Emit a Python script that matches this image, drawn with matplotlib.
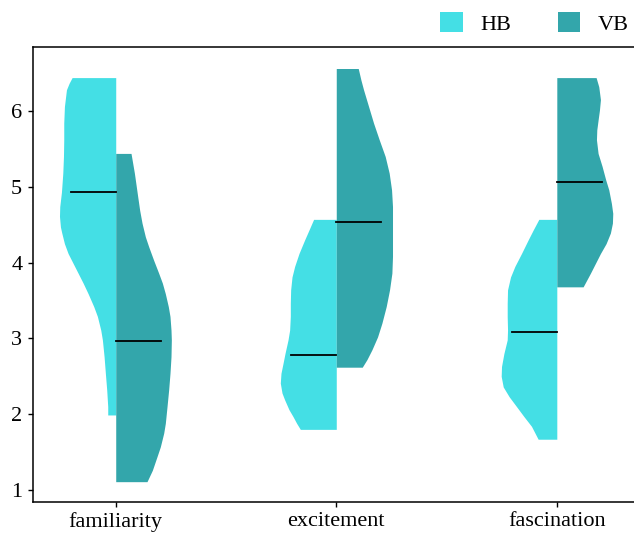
import matplotlib
matplotlib.use("Agg")
import matplotlib.pyplot as plt
from matplotlib.patches import Patch

plt.rcParams['font.family'] = ['Liberation Serif', 'DejaVu Serif']

# Categories and groups
categories = ["familiarity", "excitement", "fascination"]
groups = ["HB", "VB"]
colors = {"HB": "#44DFE5", "VB": "#33A6AB"}

# Density outlines (response level, relative density 0..1) per category and group
fam_hb_levels = [6.44, 6.365, 6.28, 6.06, 5.84, 5.62, 5.40, 5.18, 4.93, 4.74, 4.61, 4.47, 4.39, 4.25,
                 4.12, 3.99, 3.86, 3.73, 3.59, 3.42, 3.29, 3.11, 2.98, 2.76, 2.54, 2.32, 2.10, 1.99]
fam_hb_dens = [0.776, 0.829, 0.876, 0.912, 0.924, 0.924, 0.929, 0.941, 0.965, 0.995, 1.0, 0.983, 0.959, 0.912,
               0.847, 0.758, 0.669, 0.580, 0.491, 0.391, 0.326, 0.266, 0.237, 0.207, 0.184, 0.160, 0.142, 0.142]
fam_vb_levels = [5.44, 5.31, 5.18, 4.87, 4.69, 4.52, 4.34, 4.21, 4.03, 3.86, 3.73, 3.59, 3.42, 3.29,
                 3.11, 2.98, 2.76, 2.54, 2.32, 2.10, 1.88, 1.75, 1.57, 1.44, 1.26, 1.11]
fam_vb_dens = [0.272, 0.302, 0.332, 0.391, 0.426, 0.468, 0.527, 0.586, 0.675, 0.764, 0.829, 0.882, 0.935, 0.965,
               0.983, 0.989, 0.983, 0.965, 0.941, 0.912, 0.882, 0.853, 0.793, 0.734, 0.651, 0.556]

exc_hb_levels = [4.57, 4.43, 4.30, 4.12, 3.95, 3.81, 3.64, 3.46, 3.29, 3.11, 2.98, 2.80, 2.67, 2.54,
                 2.41, 2.28, 2.19, 2.06, 1.97, 1.88, 1.80]
exc_hb_dens = [0.403, 0.485, 0.562, 0.663, 0.740, 0.787, 0.811, 0.817, 0.817, 0.829, 0.858, 0.912, 0.947, 0.983,
               0.995, 0.965, 0.918, 0.841, 0.770, 0.705, 0.639]
exc_vb_levels = [6.56, 6.41, 6.28, 6.06, 5.84, 5.62, 5.40, 5.18, 4.96, 4.74, 4.52, 4.30, 4.08, 3.86,
                 3.64, 3.42, 3.20, 3.02, 2.85, 2.72, 2.62]
exc_vb_dens = [0.391, 0.438, 0.485, 0.574, 0.663, 0.764, 0.870, 0.941, 0.983, 1.0, 1.0, 1.0, 1.0, 0.989,
               0.947, 0.888, 0.811, 0.734, 0.634, 0.545, 0.462]

fas_hb_levels = [4.57, 4.43, 4.30, 4.12, 3.95, 3.81, 3.64, 3.46, 3.29, 3.11, 2.98, 2.80, 2.63, 2.50,
                 2.36, 2.23, 2.10, 1.97, 1.84, 1.67]
fas_hb_dens = [0.320, 0.420, 0.509, 0.628, 0.746, 0.823, 0.876, 0.882, 0.882, 0.876, 0.882, 0.941, 0.983, 0.989,
               0.953, 0.847, 0.716, 0.586, 0.450, 0.332]
fas_vb_levels = [6.44, 6.32, 6.15, 6.01, 5.88, 5.75, 5.62, 5.44, 5.27, 5.09, 4.96, 4.78, 4.65, 4.52,
                 4.39, 4.25, 4.12, 3.99, 3.86, 3.68]
fas_vb_dens = [0.699, 0.746, 0.776, 0.758, 0.734, 0.711, 0.705, 0.734, 0.805, 0.870, 0.924, 0.971, 0.995, 0.989,
               0.953, 0.876, 0.776, 0.687, 0.598, 0.468]

# Medians per category: HB, VB
hb_medians = [4.93, 2.78, 3.09]
vb_medians = [2.97, 4.53, 5.06]

profiles = {
    ("familiarity", "HB"): (fam_hb_levels, fam_hb_dens),
    ("familiarity", "VB"): (fam_vb_levels, fam_vb_dens),
    ("excitement", "HB"): (exc_hb_levels, exc_hb_dens),
    ("excitement", "VB"): (exc_vb_levels, exc_vb_dens),
    ("fascination", "HB"): (fas_hb_levels, fas_hb_dens),
    ("fascination", "VB"): (fas_vb_levels, fas_vb_dens),
}
medians = {"HB": hb_medians, "VB": vb_medians}

max_half_width = 0.255
median_len = 0.204

fig = plt.figure(figsize=(6.34, 5.35), dpi=100)
ax = fig.add_axes([0.0516, 0.0617, 0.9484, 0.8505])

for i, cat in enumerate(categories):
    for g in groups:
        levels, dens = profiles[(cat, g)]
        hw = [d * max_half_width for d in dens]
        sign = -1 if g == "HB" else 1
        outer = [i + sign * w for w in hw]
        inner = [i] * len(hw)
        ax.fill_betweenx(levels, inner, outer, color=colors[g], lw=0, zorder=2)
        m = medians[g][i]
        ax.plot([i, i + sign * median_len], [m, m], color="black", lw=1.3, zorder=3)

ax.set_xlim(-0.3764, 2.35)
ax.set_ylim(0.842, 6.844)
ax.set_xticks(range(len(categories)))
ax.set_xticklabels(categories)
ax.set_yticks([1, 2, 3, 4, 5, 6])
ax.tick_params(axis="both", labelsize=16, length=3.5, width=1.0, color="black", pad=4)
for side in ["left", "top", "bottom"]:
    ax.spines[side].set_linewidth(1.1)
    ax.spines[side].set_color("black")
ax.spines["right"].set_visible(False)

handles = [Patch(facecolor=colors[g], edgecolor="none", label=g) for g in groups]
fig.legend(handles=handles, loc="center right", bbox_to_anchor=(0.992, 0.956),
           ncol=2, frameon=False, fontsize=16, handlelength=1.0, handleheight=1.0,
           handletextpad=0.8, columnspacing=2.1, borderaxespad=0, borderpad=0)

fig.savefig("out.png", dpi=100)
